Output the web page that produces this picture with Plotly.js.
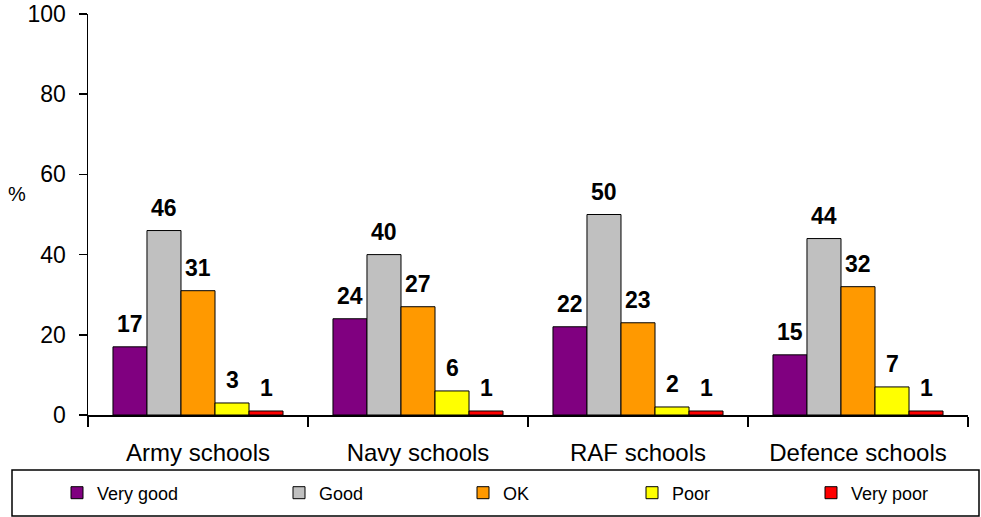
<!DOCTYPE html>
<html>
<head>
<meta charset="utf-8">
<script src="https://cdn.plot.ly/plotly-3.0.1.min.js"></script>
<style>html,body{margin:0;padding:0;background:#fff;}#chart{width:981px;height:517px;}</style>
</head>
<body>
<div id="chart"></div>
<script>
const categories = ["Army schools", "Navy schools", "RAF schools", "Defence schools"];
const seriesNames = ["Very good", "Good", "OK", "Poor", "Very poor"];
const veryGood = [17, 24, 22, 15];
const good = [46, 40, 50, 44];
const ok = [31, 27, 23, 32];
const poor = [3, 6, 2, 7];
const veryPoor = [1, 1, 1, 1];
const yTicks = [0, 20, 40, 60, 80, 100];

const seriesValues = [veryGood, good, ok, poor, veryPoor];
const colors = ["#800080", "#C0C0C0", "#FF9900", "#FFFF00", "#FF0000"];

const W = 981, H = 517;
const margin = {l: 88, r: 13, t: 14, b: 102};
const plotW = W - margin.l - margin.r;
const plotH = H - margin.t - margin.b;
const bargap = 0.227;
const catW = plotW / categories.length;
const barW = catW * (1 - bargap) / seriesNames.length;

const FONT = "Arial, 'Liberation Sans', sans-serif";

// legend entry marker positions (px) -> paper coords
const legendPx = [57, 279, 463, 632, 811];
const legendYpx = 493;

const traces = seriesValues.map((vals, i) => ({
  type: "bar",
  name: seriesNames[i],
  x: categories,
  y: vals,
  marker: {color: colors[i], line: {color: "#000", width: 1}},
  legend: i === 0 ? "legend" : "legend" + (i + 1),
  hoverinfo: "skip"
}));

const annotations = [];
seriesValues.forEach((vals, i) => {
  vals.forEach((v, j) => {
    annotations.push({
      x: categories[j], y: v, xref: "x", yref: "y",
      text: String(v), showarrow: false,
      yanchor: "bottom", xanchor: "center",
      xshift: (i - (seriesNames.length - 1) / 2) * barW,
      yshift: 8,
      font: {family: FONT, size: 23, color: "#000", weight: "bold"}
    });
  });
});
annotations.push({
  xref: "paper", yref: "paper",
  x: (17 - margin.l) / plotW, y: (margin.t + plotH - 194) / plotH,
  text: "%", showarrow: false, xanchor: "center", yanchor: "middle",
  font: {family: FONT, size: 20, color: "#000"}
});

const layout = {
  width: W, height: H,
  margin: Object.assign({pad: 0, autoexpand: false}, margin),
  paper_bgcolor: "#fff", plot_bgcolor: "#fff",
  barmode: "group", bargap: bargap, bargroupgap: 0,
  font: {family: FONT, color: "#000"},
  xaxis: {
    type: "category",
    showline: true, linecolor: "#000", linewidth: 1.5,
    ticks: "outside", tickson: "boundaries", ticklen: 10, tickwidth: 1.5, tickcolor: "#000",
    tickfont: {family: FONT, size: 24, color: "#000"},
    ticklabelstandoff: 16,
    showgrid: false, zeroline: false, fixedrange: true
  },
  yaxis: {
    range: [0, 100], tickvals: yTicks,
    showline: true, linecolor: "#000", linewidth: 1.5,
    ticks: "outside", ticklen: 8, tickwidth: 1.5, tickcolor: "#000",
    tickfont: {family: FONT, size: 23, color: "#000"},
    ticklabelstandoff: 8,
    showgrid: false, zeroline: false, fixedrange: true
  },
  annotations: annotations,
  shapes: [{
    type: "rect", xref: "paper", yref: "paper",
    x0: (12 - margin.l) / plotW, x1: (979 - margin.l) / plotW,
    y0: (margin.t + plotH - 470) / plotH, y1: (margin.t + plotH - 516) / plotH,
    line: {color: "#000", width: 1.5}, fillcolor: "rgba(0,0,0,0)"
  }],
  showlegend: true
};

legendPx.forEach((px, i) => {
  const key = i === 0 ? "legend" : "legend" + (i + 1);
  layout[key] = {
    x: (px - margin.l) / plotW,
    y: (margin.t + plotH - legendYpx) / plotH,
    xanchor: "left", yanchor: "middle",
    orientation: "h",
    bgcolor: "rgba(0,0,0,0)", borderwidth: 0,
    font: {family: FONT, size: 18, color: "#000"},
    itemwidth: 30
  };
});

Plotly.newPlot("chart", traces, layout, {displayModeBar: false, staticPlot: true});
</script>
</body>
</html>
